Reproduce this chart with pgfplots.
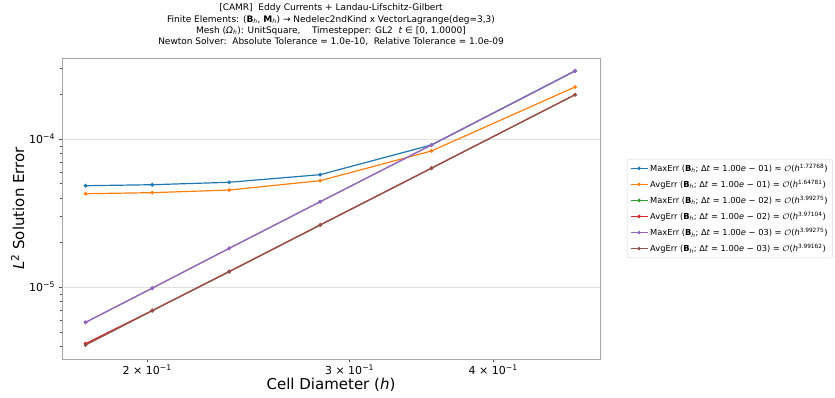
\documentclass[border=0pt]{standalone}
\usepackage{fontspec}
\setmainfont{DejaVu Sans}
\usepackage{pgfplots}
\pgfplotsset{compat=1.18}
\definecolor{c0}{HTML}{1F77B4}
\definecolor{c1}{HTML}{FF7F0E}
\definecolor{c2}{HTML}{2CA02C}
\definecolor{c3}{HTML}{D62728}
\definecolor{c4}{HTML}{9467BD}
\definecolor{c5}{HTML}{8C564B}
\newcommand{\Bh}{\textbf{B}\textsubscript{\textit{h}}}
\newcommand{\Oh}[1]{$\mathcal{O}$(\textit{h}\textsuperscript{#1})}
\begin{document}
\begin{tikzpicture}
\useasboundingbox (0,0) rectangle (835pt,398pt);
\node[align=center, font=\fontsize{9}{11.3}\selectfont] at (331pt,373pt) {%
[CAMR]\ \ Eddy Currents + Landau-Lifschitz-Gilbert\\
Finite Elements: (\textbf{B}\textsubscript{\textit{h}}, \textbf{M}\textsubscript{\textit{h}}) → Nedelec2ndKind x VectorLagrange(deg=3,3)\\
Mesh (\textit{Ω}\textsubscript{\textit{h}}): UnitSquare,\ \ \ \ Timestepper: GL2\ \ \textit{t} ∈ [0, 1.0000]\\
Newton Solver:\ \ Absolute Tolerance = 1.0e-10,\ \ Relative Tolerance = 1.0e-09};
\begin{axis}[
  at={(62pt,39pt)}, anchor=south west, scale only axis,
  width=538pt, height=301pt,
  xmode=log, ymode=log,
  xmin=0.1686, xmax=0.4955, ymin=3.27e-6, ymax=3.52e-4,
  xtick={0.2,0.3,0.4},
  xticklabels={2 × 10\textsuperscript{−1},3 × 10\textsuperscript{−1},4 × 10\textsuperscript{−1}},
  minor xtick={},
  ytick={1e-5,1e-4},
  yticklabels={10\textsuperscript{−5},10\textsuperscript{−4}},
  minor ytick={4e-6,5e-6,6e-6,7e-6,8e-6,9e-6,2e-5,3e-5,4e-5,5e-5,6e-5,7e-5,8e-5,9e-5,2e-4,3e-4},
  tick align=outside, xtick pos=bottom, ytick pos=left,
  major tick length=3.5pt, minor tick length=2pt,
  tick style={black!70},
  ymajorgrids, major grid style={gray!25, line width=0.8pt},
  axis line style={gray!70},
  ticklabel style={font=\fontsize{11}{13}\selectfont},
  xticklabel style={yshift=1pt},
  label style={font=\fontsize{15}{18}\selectfont},
  xlabel={Cell Diameter (\textit{h})},
  ylabel={\textit{L}\textsuperscript{2} Solution Error},
  xlabel style={yshift=4pt},
  ylabel style={yshift=-2pt},
  every axis plot/.append style={line width=1.2pt, mark=*, mark size=1.2pt},
  legend style={at={(1.05,0.5)}, anchor=west, draw=gray!30, rounded corners=2pt,
    font=\fontsize{8.3}{9.5}\selectfont, row sep=3.4pt, inner xsep=3pt, inner ysep=3pt},
  legend cell align=left,
  legend image post style={line width=1pt, mark size=1.2pt},
]
\addplot[c0] coordinates {(0.1767767,4.835e-5) (0.2020305,4.91e-5) (0.2357023,5.10e-5) (0.2828427,5.74e-5) (0.3535534,9.11e-5) (0.4714045,2.88e-4)};
\addlegendentry{MaxErr (\Bh; Δ\textit{t} = 1.00\textit{e} − 01) ≈ \Oh{1.72768}}
\addplot[c1] coordinates {(0.1767767,4.27e-5) (0.2020305,4.34e-5) (0.2357023,4.52e-5) (0.2828427,5.23e-5) (0.3535534,8.30e-5) (0.4714045,2.245e-4)};
\addlegendentry{AvgErr (\Bh; Δ\textit{t} = 1.00\textit{e} − 01) = \Oh{1.64781}}
\addplot[c2, line width=0.8pt] coordinates {(0.1767767,5.78e-6) (0.2020305,9.84e-6) (0.2357023,1.826e-5) (0.2828427,3.77e-5) (0.3535534,9.11e-5) (0.4714045,2.88e-4)};
\addlegendentry{MaxErr (\Bh; Δ\textit{t} = 1.00\textit{e} − 02) ≈ \Oh{3.99275}}
\addplot[c3] coordinates {(0.1767767,4.15e-6) (0.2020305,6.95e-6) (0.2357023,1.275e-5) (0.2828427,2.63e-5) (0.3535534,6.36e-5) (0.4714045,1.99e-4)};
\addlegendentry{AvgErr (\Bh; Δ\textit{t} = 1.00\textit{e} − 02) = \Oh{3.97104}}
\addplot[c4, line width=1.4pt] coordinates {(0.1767767,5.78e-6) (0.2020305,9.84e-6) (0.2357023,1.826e-5) (0.2828427,3.77e-5) (0.3535534,9.11e-5) (0.4714045,2.88e-4)};
\addlegendentry{MaxErr (\Bh; Δ\textit{t} = 1.00\textit{e} − 03) = \Oh{3.99275}}
\addplot[c5] coordinates {(0.1767767,4.06e-6) (0.2020305,6.92e-6) (0.2357023,1.269e-5) (0.2828427,2.62e-5) (0.3535534,6.34e-5) (0.4714045,1.99e-4)};
\addlegendentry{AvgErr (\Bh; Δ\textit{t} = 1.00\textit{e} − 03) = \Oh{3.99162}}
\end{axis}
\end{tikzpicture}
\end{document}
